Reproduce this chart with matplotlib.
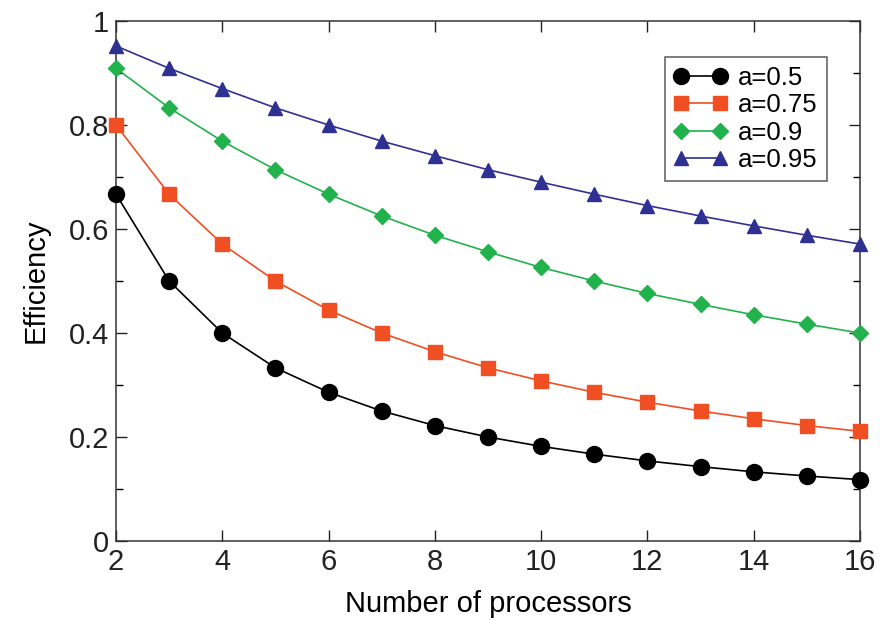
import matplotlib
matplotlib.use("Agg")
import matplotlib.pyplot as plt
from matplotlib.ticker import MultipleLocator

processors = [2, 3, 4, 5, 6, 7, 8, 9, 10, 11, 12, 13, 14, 15, 16]
eff_a050 = [0.667, 0.500, 0.400, 0.333, 0.286, 0.250, 0.222, 0.200, 0.182, 0.167, 0.154, 0.143, 0.133, 0.125, 0.118]
eff_a075 = [0.800, 0.667, 0.571, 0.500, 0.444, 0.400, 0.364, 0.333, 0.308, 0.286, 0.267, 0.250, 0.235, 0.222, 0.211]
eff_a090 = [0.909, 0.833, 0.769, 0.714, 0.667, 0.625, 0.588, 0.556, 0.526, 0.500, 0.476, 0.455, 0.435, 0.417, 0.400]
eff_a095 = [0.952, 0.909, 0.870, 0.833, 0.800, 0.769, 0.741, 0.714, 0.690, 0.667, 0.645, 0.625, 0.606, 0.588, 0.571]
labels = ["a=0.5", "a=0.75", "a=0.9", "a=0.95"]

plt.rcParams['font.family'] = ['Liberation Sans', 'DejaVu Sans']

fig = plt.figure(figsize=(8.89, 6.2), dpi=100)
ax = fig.add_axes([116/889, 1-541/620, (860-116)/889, (541-21)/620])

series = [
    (eff_a050, "#000000", "o", 11.5),
    (eff_a075, "#f04e23", "s", 9.5),
    (eff_a090, "#22b24c", "D", 8.0),
    (eff_a095, "#2e3192", "^", 10.5),
]
for (vals, col, mk, ms), lab in zip(series, labels):
    ax.plot(processors, vals, color=col, marker=mk, markersize=ms, lw=1.2,
            label=lab, clip_on=False, zorder=3)

ax.set_xlim(2, 16)
ax.set_ylim(0, 1)
ax.xaxis.set_major_locator(MultipleLocator(2))
ax.yaxis.set_minor_locator(MultipleLocator(0.1))
ax.set_yticks([0, 0.2, 0.4, 0.6, 0.8, 1.0])
ax.set_yticklabels(["0", "0.2", "0.4", "0.6", "0.8", "1"])
ax.tick_params(which='major', direction='in', length=8, width=1, top=True, right=True,
               labelsize=21, pad=5, colors="#222222")
ax.tick_params(which='minor', direction='in', length=5, width=1, top=True, right=True)
ax.tick_params(axis='x', pad=5)
for s in ax.spines.values():
    s.set_linewidth(1.1)
    s.set_color("#333333")

ax.set_xlabel("Number of processors", fontsize=21, labelpad=10)
ax.set_ylabel("Efficiency", fontsize=21, labelpad=14)

leg = ax.legend(loc='upper right', bbox_to_anchor=(0.955, 0.93), fontsize=18.5,
                frameon=True, fancybox=False, edgecolor="#333333", borderpad=0.35,
                handlelength=2.1, handletextpad=0.4, labelspacing=0.12, numpoints=2,
                borderaxespad=0)
leg.get_frame().set_linewidth(1.1)

fig.savefig("out.png", dpi=100)
